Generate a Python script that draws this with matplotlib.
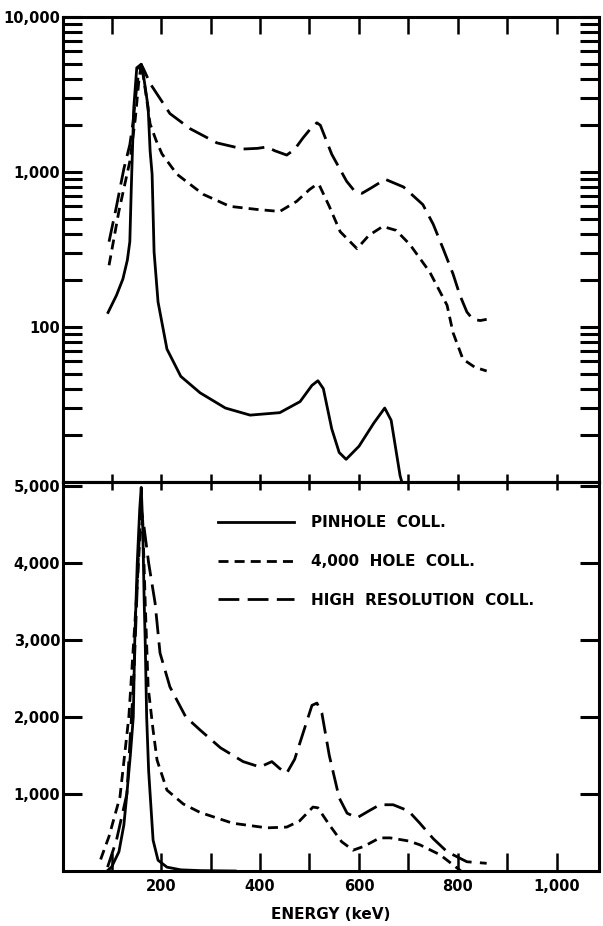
import numpy as np
import matplotlib.pyplot as plt
from matplotlib.ticker import LogLocator, NullFormatter

plt.rcParams['font.family'] = ['DejaVu Sans']
plt.rcParams['font.weight'] = 'bold'

# ---- top panel (log scale) ----
top_pin_e = [93, 110, 123, 132, 137, 140, 145, 151, 160, 164, 170, 174, 178, 182, 186,
             194, 212, 240, 279, 330, 380, 440, 481, 505, 517, 528, 545, 560, 574, 600,
             630, 652, 665, 683, 695]
top_pin_v = [124, 160, 204, 270, 355, 800, 2600, 4700, 4950, 4300, 3200, 2600, 1365, 968, 305,
             145, 72, 48, 37.6, 30, 27, 28, 33, 42, 45, 40, 22, 15.5, 14, 17,
             24, 30, 25, 11, 8]

top_4000_e = [95, 115, 137, 148, 155, 160, 165, 172, 178, 190, 202, 232, 285, 339, 394,
              440, 474, 500, 515, 520, 540, 562, 596, 620, 648, 675, 703, 743, 778, 790,
              810, 834, 858]
top_4000_v = [250, 560, 1170, 2200, 3800, 4950, 4000, 2800, 2040, 1600, 1306, 968, 718, 600, 573,
              556, 646, 770, 833, 820, 600, 412, 320, 390, 445, 420, 340, 226, 138, 92,
              62, 55, 52]

top_hr_e = [95, 110, 125, 137, 143, 150, 156, 160, 165, 178, 218, 259, 313, 366, 395,
            414, 430, 454, 470, 487, 505, 515, 522, 545, 575, 590, 606, 625, 653, 690,
            729, 750, 770, 790, 804, 818, 830, 845, 858]
top_hr_v = [355, 600, 1050, 1500, 2040, 3300, 4700, 4950, 4600, 3720, 2380, 1900, 1540, 1406, 1420,
            1450, 1370, 1285, 1400, 1660, 1950, 2075, 2000, 1300, 871, 760, 728, 790, 897, 800,
            616, 460, 320, 220, 160, 125, 112, 110, 112]

# ---- bottom panel (linear scale) ----
bot_pin_e = [91, 100, 115, 125, 131, 138, 144, 147, 152, 157, 160, 163, 166, 168, 171,
             175, 178, 184, 194, 212, 240, 280, 350]
bot_pin_v = [0, 50, 250, 600, 1000, 1500, 2000, 3000, 4000, 4700, 4980, 4500, 3500, 3000, 2000,
             1300, 1000, 400, 140, 50, 15, 5, 0]

bot_4000_e = [78, 95, 117, 135, 150, 158, 163, 168, 174, 184, 192, 212, 245, 279, 345,
              414, 454, 480, 507, 517, 540, 565, 588, 610, 642, 663, 700, 723, 764, 798, 806]
bot_4000_v = [150, 450, 960, 2000, 3500, 4400, 4550, 3500, 2390, 1830, 1440, 1050, 870, 760, 620,
              560, 570, 650, 830, 820, 600, 380, 270, 320, 430, 430, 390, 340, 210, 40, 0]

bot_hr_e = [92, 110, 131, 145, 155, 160, 165, 175, 188, 198, 218, 250, 279, 320, 366,
            400, 424, 440, 454, 470, 490, 505, 515, 525, 540, 560, 576, 596, 620, 642,
            669, 700, 723, 750, 778, 818, 858]
bot_hr_v = [50, 400, 1000, 2500, 4200, 4700, 4500, 4000, 3480, 2830, 2390, 2000, 1830, 1600, 1420,
            1350, 1420, 1330, 1270, 1450, 1850, 2150, 2180, 2050, 1500, 950, 750, 690, 780, 860,
            860, 780, 620, 420, 250, 120, 100]

labels = ['PINHOLE  COLL.', '4,000  HOLE  COLL.', 'HIGH  RESOLUTION  COLL.']

solid = dict(color='black', lw=2.0, linestyle='-')
short = dict(color='black', lw=2.0, linestyle=(0, (3.6, 2.2)))
longd = dict(color='black', lw=2.0, linestyle=(0, (7.5, 3)))

fig = plt.figure(figsize=(6.03, 9.26), dpi=100)
ax1 = fig.add_axes([0.1045, 0.4795, 0.8889, 0.5022])
ax2 = fig.add_axes([0.1045, 0.0594, 0.8889, 0.4201])

ax1.plot(top_pin_e, top_pin_v, **solid)
ax1.plot(top_4000_e, top_4000_v, **short)
ax1.plot(top_hr_e, top_hr_v, **longd)

l1, = ax2.plot(bot_pin_e, bot_pin_v, **solid)
l2, = ax2.plot(bot_4000_e, bot_4000_v, **short)
l3, = ax2.plot(bot_hr_e, bot_hr_v, **longd)

for ax in (ax1, ax2):
    ax.set_xlim(2, 1085)
    for s in ax.spines.values():
        s.set_linewidth(2.2)

# top axes
ax1.set_yscale('log')
ax1.set_ylim(10, 10000)
ax1.set_yticks([100, 1000, 10000])
ax1.set_yticklabels(['100', '1,000', '10,000'])
ax1.yaxis.set_minor_locator(LogLocator(base=10, subs=np.arange(2, 10)))
ax1.yaxis.set_minor_formatter(NullFormatter())
ax1.tick_params(axis='y', which='both', direction='in', left=True, right=True,
                length=14, width=2.2, labelsize=10.5, pad=2)
ax1.set_xticks(np.arange(100, 1001, 100))
ax1.tick_params(axis='x', which='both', direction='in', top=True, bottom=False,
                length=12, width=1.8, labelbottom=False)

# bottom axes
ax2.set_ylim(0, 5050)
ax2.set_yticks([1000, 2000, 3000, 4000, 5000])
ax2.set_yticklabels(['1,000', '2,000', '3,000', '4,000', '5,000'])
ax2.tick_params(axis='y', direction='in', left=True, right=True,
                length=14, width=2.2, labelsize=10.5, pad=2)
ax2.set_xticks(np.arange(100, 1001, 100))
ax2.set_xticklabels(['', '200', '', '400', '', '600', '', '800', '', '1,000'])
ax2.tick_params(axis='x', direction='in', bottom=True, top=False,
                length=13, width=1.8, labelsize=10.5, pad=6)
sec = ax2.secondary_xaxis('top')
sec.set_xticks(np.arange(100, 1001, 100))
sec.tick_params(direction='inout', length=12, width=1.8, labeltop=False)
sec.spines['top'].set_linewidth(2.2)

ax2.set_xlabel('ENERGY (keV)', fontsize=11, fontweight='bold', labelpad=9)

ax2.legend(handles=[l1, l2, l3], labels=labels, loc='upper left',
           bbox_to_anchor=(0.289, 0.914), frameon=False, handlelength=5.0,
           handletextpad=1.1, labelspacing=1.55, borderpad=0, borderaxespad=0,
           prop={'weight': 'bold', 'size': 11})

fig.savefig('out.png', dpi=100)
